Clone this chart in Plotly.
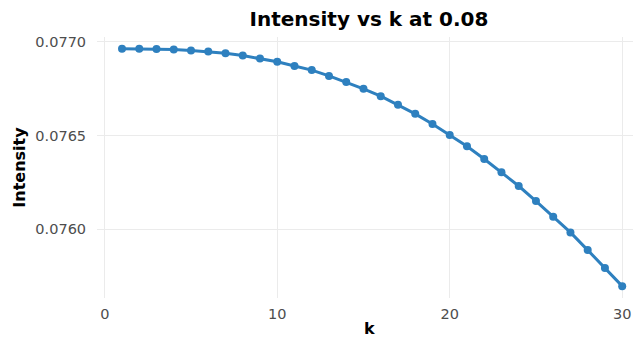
import plotly.graph_objects as go

k_values = list(range(1, 31))
intensity = [
    0.076961, 0.076961, 0.076960, 0.076957, 0.076952, 0.076947, 0.076938, 0.076925,
    0.076909, 0.076892, 0.076870, 0.076848, 0.076817, 0.076784, 0.076748, 0.076709,
    0.076663, 0.076615, 0.076561, 0.076503, 0.076442, 0.076375, 0.076304, 0.076231,
    0.076151, 0.076067, 0.075984, 0.075890, 0.075795, 0.075698,
]
x_ticks = [0, 10, 20, 30]
y_ticks = [0.0760, 0.0765, 0.0770]
y_tick_labels = ["0.0760", "0.0765", "0.0770"]

color = "#2E80BF"
font_family = "DejaVu Sans, Liberation Sans, Arial, sans-serif"

# page body has an 8px margin; figure is sized so it ends at the window edge
W, H = 633, 332

fig = go.Figure()
fig.add_trace(go.Scatter(
    x=k_values, y=intensity, mode="lines+markers",
    line=dict(color=color, width=3),
    marker=dict(color=color, size=8),
    showlegend=False,
))

fig.update_layout(
    width=W, height=H,
    margin=dict(l=89, r=0, t=29, b=42),
    plot_bgcolor="white", paper_bgcolor="white",
    font=dict(family=font_family),
    title=dict(text="<b>Intensity vs k at 0.08</b>", x=0.5, xref="paper", xanchor="center",
               y=1 - 11 / H, yref="container", yanchor="middle",
               font=dict(size=20, color="black", family=font_family)),
    xaxis=dict(range=[-0.45, 31.09], tickvals=x_ticks, showgrid=True, gridcolor="#EBEBEB",
               gridwidth=1.3, zeroline=False, showline=False, ticks="outside", ticklen=3,
               tickcolor="rgba(0,0,0,0)", tickfont=dict(size=14.5, color="#4D4D4D"),
               automargin=False),
    yaxis=dict(range=[0.075635, 0.077024], tickvals=y_ticks, ticktext=y_tick_labels,
               showgrid=True, gridcolor="#EBEBEB", gridwidth=1.3, zeroline=False, showline=False,
               ticks="outside", ticklen=7, tickcolor="rgba(0,0,0,0)",
               tickfont=dict(size=14.5, color="#4D4D4D"), automargin=False),
    annotations=[
        dict(text="<b>k</b>", xref="paper", yref="paper", x=0.5, y=-0.115, xanchor="center",
             yanchor="middle", showarrow=False, font=dict(size=16, color="black")),
        dict(text="<b>Intensity</b>", xref="paper", yref="paper", x=-0.143, y=0.5,
             xanchor="center", yanchor="middle", textangle=-90, showarrow=False,
             font=dict(size=16, color="black")),
    ],
)

fig.write_html("out.html")
